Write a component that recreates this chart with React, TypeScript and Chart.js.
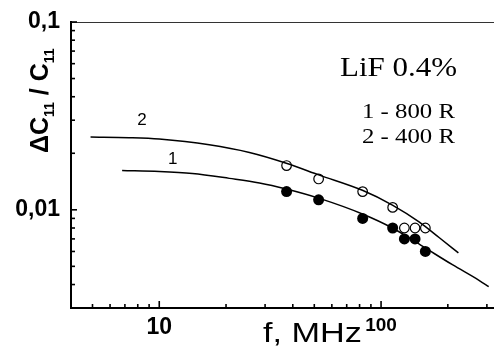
import React, { useEffect, useRef } from "react";
import { Chart, registerables } from "chart.js";

Chart.register(...registerables);

// Fitted curve 2 (400 R)
const curve2F = [4.9, 7.3, 10, 16.8, 25.5, 37.4, 52.7, 82.4, 112.5, 148.9, 183.2, 223.2];
const curve2Y = [0.0244, 0.0242, 0.0238, 0.0222, 0.0202, 0.0177, 0.0153, 0.0127, 0.0106, 0.0086, 0.0071, 0.0059];
// Fitted curve 1 (800 R)
const curve1F = [6.8, 10, 14.1, 20.7, 28.3, 37.4, 52.7, 82.4, 112.5, 153.6, 209.7, 277.5, 305.7];
const curve1Y = [0.0162, 0.016, 0.0156, 0.0147, 0.0139, 0.0129, 0.0115, 0.0095, 0.008, 0.0064, 0.0051, 0.0042, 0.0039];
// Measured points
const pointF = [37.5, 52.3, 82.6, 112.8, 127.4, 142.3, 158.4];
const open400Y = [0.0172, 0.0146, 0.0125, 0.0103, 0.008, 0.008, 0.008];
const filled800Y = [0.0125, 0.0113, 0.009, 0.008, 0.007, 0.007, 0.006];

const xMin = 4;
const xMax = 323;
const yMin = 0.003;
const yMax = 0.1;
const xTickLabels: Record<number, string> = { 1: "10", 2: "100" };
const yTickLabels: Record<number, string> = { [-1]: "0,1", [-2]: "0,01" };

const curveLabels = [
  { text: "2", f: 8.36, y: 0.03 },
  { text: "1", f: 11.5, y: 0.0185 },
];

const toXY = (xs: number[], ys: number[]) => xs.map((x, i) => ({ x, y: ys[i] }));

const decadeExp = (v: number): number | null => {
  const l = Math.log10(v);
  const r = Math.round(l);
  return Math.abs(l - r) < 1e-6 ? r : null;
};

function stretchText(ctx: CanvasRenderingContext2D, text: string, x: number, y: number, font: string, width?: number) {
  ctx.save();
  ctx.font = font;
  const w = ctx.measureText(text).width;
  const sx = width ? width / w : 1;
  ctx.translate(x, y);
  ctx.scale(sx, 1);
  ctx.textBaseline = "alphabetic";
  ctx.textAlign = "left";
  ctx.fillStyle = "#000";
  ctx.fillText(text, 0, 0);
  ctx.restore();
}

const framePlugin = {
  id: "frame",
  beforeDatasetsDraw(chart: any) {
    const { ctx, chartArea } = chart;
    const xs = chart.scales.x;
    const ys = chart.scales.y;
    ctx.save();
    ctx.lineWidth = 1;
    ctx.strokeStyle = "#333";
    ctx.beginPath();
    ctx.moveTo(chartArea.left, chartArea.top + 0.5);
    ctx.lineTo(chartArea.right, chartArea.top + 0.5);
    ctx.stroke();
    ctx.strokeStyle = "#000";
    ctx.lineWidth = 1.6;
    for (let e = -4; e <= 0; e++) {
      for (let k = 1; k <= 9; k++) {
        const v = k * Math.pow(10, e);
        if (v <= yMin * 1.0001 || v > yMax * 1.0001) continue;
        const py = ys.getPixelForValue(v);
        const len = k === 1 ? 6 : 4;
        ctx.beginPath();
        ctx.moveTo(chartArea.left, py);
        ctx.lineTo(chartArea.left + len, py);
        ctx.stroke();
      }
    }
    for (let e = 0; e <= 3; e++) {
      for (let k = 1; k <= 9; k++) {
        const v = k * Math.pow(10, e);
        if (v <= xMin * 1.0001 || v >= xMax) continue;
        const px = xs.getPixelForValue(v);
        const len = k === 1 ? 7 : 4;
        ctx.beginPath();
        ctx.moveTo(px, chartArea.bottom);
        ctx.lineTo(px, chartArea.bottom - len);
        ctx.stroke();
      }
    }
    ctx.restore();
  },
  afterDraw(chart: any) {
    const { ctx } = chart;
    const xs = chart.scales.x;
    const ys = chart.scales.y;
    const sans = "'Liberation Sans', Arial, sans-serif";
    const serif = "'Liberation Serif', 'Times New Roman', serif";
    ctx.save();
    ctx.fillStyle = "#000";
    ctx.font = `17px ${sans}`;
    ctx.textAlign = "center";
    ctx.textBaseline = "middle";
    curveLabels.forEach((l) => {
      ctx.fillText(l.text, xs.getPixelForValue(l.f), ys.getPixelForValue(l.y));
    });
    ctx.restore();

    stretchText(ctx, "LiF 0.4%", 340, 76, `27px ${serif}`, 117);
    stretchText(ctx, "1 - 800 R", 362, 118, `21px ${serif}`, 93);
    stretchText(ctx, "2 - 400 R", 362, 143, `21px ${serif}`, 93);
    stretchText(ctx, "f, MHz", 263, 342, `28px ${sans}`, 99);

    ctx.save();
    ctx.translate(48, 153);
    ctx.rotate(-Math.PI / 2);
    ctx.fillStyle = "#000";
    ctx.textBaseline = "alphabetic";
    ctx.textAlign = "left";
    let x = 0;
    const big = `bold 25px ${sans}`;
    const small = `bold 14px ${sans}`;
    const parts: [string, string, number][] = [
      ["\u0394C", big, 0],
      ["11", small, 6],
      [" / C", big, 0],
      ["11", small, 6],
    ];
    parts.forEach(([t, f, dy]) => {
      ctx.font = f;
      ctx.fillText(t, x, dy);
      x += ctx.measureText(t).width;
    });
    ctx.restore();
  },
};

export default function App() {
  const canvasRef = useRef<HTMLCanvasElement | null>(null);

  useEffect(() => {
    document.body.style.margin = "0";
    const canvas = canvasRef.current;
    if (!canvas) return;
    const sans = "'Liberation Sans', Arial, sans-serif";
    const chart = new Chart(canvas, {
      type: "scatter",
      data: {
        datasets: [
          { data: toXY(curve2F, curve2Y), showLine: true, borderColor: "#000", borderWidth: 1.5, pointRadius: 0, cubicInterpolationMode: "monotone", fill: false } as any,
          { data: toXY(curve1F, curve1Y), showLine: true, borderColor: "#000", borderWidth: 1.5, pointRadius: 0, cubicInterpolationMode: "monotone", fill: false } as any,
          { data: toXY(pointF, filled800Y), showLine: false, pointRadius: 5.5, pointBackgroundColor: "#000", pointBorderWidth: 0, backgroundColor: "#000" },
          { data: toXY(pointF, open400Y), showLine: false, pointRadius: 4.8, pointBackgroundColor: "rgba(0,0,0,0)", pointBorderColor: "#000", pointBorderWidth: 1.2 },
        ],
      },
      options: {
        animation: false,
        responsive: false,
        maintainAspectRatio: false,
        devicePixelRatio: 1,
        layout: { autoPadding: false, padding: { top: 22, right: 0, left: 0, bottom: 0 } },
        plugins: { legend: { display: false }, tooltip: { enabled: false } },
        scales: {
          x: {
            type: "logarithmic",
            min: xMin,
            max: xMax,
            grid: { display: false, drawTicks: false },
            border: { display: true, color: "#000", width: 2 },
            ticks: {
              autoSkip: false,
              maxRotation: 0,
              minRotation: 0,
              padding: 6,
              color: "#000",
              font: (c: any) => ({ family: sans, weight: "bold", size: c.tick && Math.abs(c.tick.value - 100) < 1e-6 ? 19 : 23 }),
              callback: (v: any) => {
                const e = decadeExp(Number(v));
                return e !== null && xTickLabels[e] ? xTickLabels[e] : "";
              },
            },
            afterFit: (s: any) => {
              s.height = 41;
              s.paddingLeft = 0;
              s.paddingRight = 0;
            },
          },
          y: {
            type: "logarithmic",
            min: yMin,
            max: yMax,
            grid: { display: false, drawTicks: false },
            border: { display: true, color: "#000", width: 2 },
            ticks: {
              autoSkip: false,
              padding: 11,
              color: "#000",
              font: { family: sans, weight: "bold", size: 23 },
              callback: (v: any) => {
                const e = decadeExp(Number(v));
                return e !== null && yTickLabels[e] ? yTickLabels[e] : "";
              },
            },
            afterFit: (s: any) => {
              s.width = 71;
              s.paddingTop = 0;
              s.paddingBottom = 0;
            },
          },
        },
      } as any,
      plugins: [framePlugin],
    });
    return () => chart.destroy();
  }, []);

  return (
    <div style={{ width: 494, height: 349 }}>
      <canvas ref={canvasRef} width={494} height={349} style={{ display: "block" }} />
    </div>
  );
}
